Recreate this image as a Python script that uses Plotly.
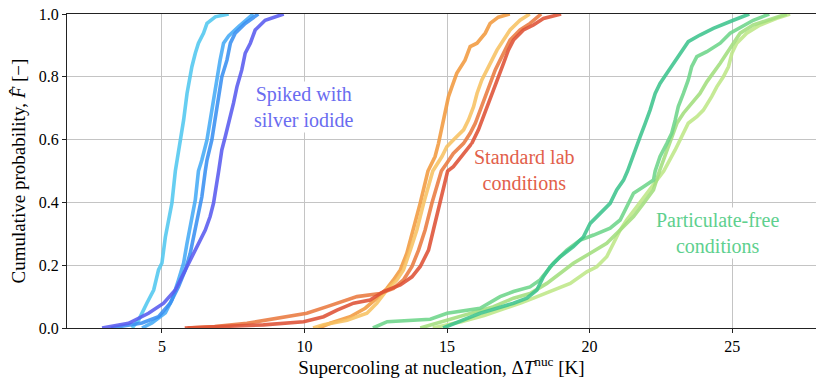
import plotly.graph_objects as go

# ---------------- data ----------------
# Spiked with silver iodide
agi_cyan_x = [3.95, 4.18, 4.47, 4.71, 4.88, 5.0, 5.12, 5.23, 5.35, 5.47, 5.64, 5.76, 5.88, 6.05, 6.17, 6.28, 6.46, 6.58, 6.87, 7.34]
agi_cyan_F = [0.0, 0.025, 0.079, 0.121, 0.185, 0.207, 0.29, 0.344, 0.398, 0.50, 0.589, 0.662, 0.747, 0.832, 0.875, 0.907, 0.939, 0.97, 0.991, 1.0]
agi_light_x = [4.3, 4.65, 5.12, 5.35, 5.58, 5.76, 5.88, 6.05, 6.17, 6.28, 6.40, 6.58, 6.69, 6.81, 6.93, 7.04, 7.16, 7.34, 7.69, 8.2]
agi_light_F = [0.0, 0.016, 0.048, 0.089, 0.153, 0.207, 0.27, 0.344, 0.408, 0.50, 0.535, 0.599, 0.662, 0.726, 0.80, 0.853, 0.907, 0.93, 0.96, 1.0]
agi_blue_x = [3.2, 4.30, 4.88, 5.29, 5.58, 5.82, 5.99, 6.11, 6.28, 6.40, 6.52, 6.58, 6.75, 6.87, 6.99, 7.10, 7.28, 7.40, 7.57, 7.92, 8.38]
agi_blue_F = [0.0, 0.016, 0.036, 0.079, 0.131, 0.185, 0.237, 0.29, 0.365, 0.418, 0.50, 0.535, 0.599, 0.662, 0.737, 0.80, 0.853, 0.907, 0.939, 0.97, 1.0]
agi_purple_x = [2.9, 3.83, 4.53, 5.06, 5.47, 5.82, 6.11, 6.34, 6.52, 6.69, 6.81, 6.99, 7.10, 7.22, 7.34, 7.51, 7.63, 7.80, 7.92, 8.10, 8.27, 8.62, 9.27]
agi_purple_F = [0.0, 0.015, 0.047, 0.079, 0.121, 0.185, 0.238, 0.28, 0.312, 0.355, 0.398, 0.50, 0.567, 0.609, 0.652, 0.716, 0.768, 0.822, 0.875, 0.907, 0.949, 0.98, 1.0]

# Standard lab conditions
lab_orange_x = [10.5, 10.9, 11.6, 12.13, 12.54, 12.89, 13.12, 13.36, 13.59, 13.82, 14.06, 14.33, 14.58, 14.70, 14.82, 14.93, 15.05, 15.17, 15.34, 15.63, 15.81, 16.05, 16.34, 16.51, 16.8, 17.2]
lab_orange_F = [0.0, 0.015, 0.036, 0.063, 0.095, 0.126, 0.153, 0.185, 0.238, 0.312, 0.398, 0.50, 0.546, 0.588, 0.641, 0.694, 0.737, 0.768, 0.811, 0.853, 0.896, 0.907, 0.939, 0.97, 0.99, 1.0]
lab_yellow_x = [10.3, 10.67, 11.49, 12.19, 12.54, 12.89, 13.24, 13.47, 13.71, 13.94, 14.18, 14.5, 14.82, 14.99, 15.22, 15.58, 15.75, 15.93, 16.05, 16.22, 16.40, 16.57, 16.75, 16.98, 17.21, 17.56, 17.9]
lab_yellow_F = [0.0, 0.01, 0.025, 0.047, 0.079, 0.121, 0.153, 0.185, 0.248, 0.312, 0.398, 0.50, 0.546, 0.577, 0.599, 0.631, 0.662, 0.705, 0.747, 0.79, 0.822, 0.853, 0.885, 0.917, 0.949, 0.98, 1.0]
lab_orred_x = [5.9, 6.85, 7.98, 9.03, 10.08, 10.79, 11.84, 12.65, 13.12, 13.47, 13.77, 14.0, 14.23, 14.47, 14.8, 14.99, 15.22, 15.58, 15.81, 15.99, 16.16, 16.34, 16.51, 16.69, 16.86, 17.04, 17.21, 17.56, 17.91, 18.3]
lab_orred_F = [0.0, 0.005, 0.015, 0.031, 0.047, 0.068, 0.10, 0.11, 0.126, 0.153, 0.196, 0.248, 0.312, 0.398, 0.50, 0.525, 0.556, 0.588, 0.62, 0.652, 0.694, 0.737, 0.78, 0.822, 0.853, 0.885, 0.917, 0.949, 0.97, 1.0]
lab_red_x = [5.8, 6.85, 8.56, 9.97, 10.67, 11.14, 11.72, 12.30, 12.77, 13.36, 13.77, 14.06, 14.35, 14.52, 14.76, 15.02, 15.22, 15.58, 15.87, 16.10, 16.28, 16.45, 16.63, 16.80, 16.98, 17.15, 17.33, 17.68, 18.03, 18.38, 19.0]
lab_red_F = [0.0, 0.003, 0.01, 0.02, 0.036, 0.057, 0.079, 0.089, 0.116, 0.137, 0.163, 0.196, 0.248, 0.312, 0.398, 0.50, 0.514, 0.556, 0.588, 0.631, 0.673, 0.716, 0.758, 0.80, 0.843, 0.885, 0.917, 0.949, 0.965, 0.986, 1.0]

# Particulate-free conditions
pf_teal_x = [14.86, 15.58, 16.16, 16.75, 17.33, 17.80, 18.15, 18.38, 18.62, 18.97, 19.43, 19.78, 20.02, 20.37, 20.72, 20.95, 21.19, 21.33, 21.54, 21.77, 21.95, 22.12, 22.30, 22.47, 22.71, 22.94, 23.17, 23.46, 23.87, 24.34, 25.04, 25.6]
pf_teal_F = [0.0, 0.025, 0.047, 0.063, 0.079, 0.095, 0.121, 0.163, 0.195, 0.227, 0.259, 0.29, 0.333, 0.365, 0.397, 0.44, 0.471, 0.50, 0.556, 0.609, 0.652, 0.694, 0.747, 0.779, 0.811, 0.843, 0.875, 0.912, 0.933, 0.954, 0.98, 1.0]
pf_mid_x = [12.4, 12.9, 14.41, 15.0, 16.16, 16.86, 17.33, 17.91, 18.26, 18.73, 19.2, 19.67, 20.14, 20.72, 21.07, 21.30, 21.54, 21.89, 22.24, 22.30, 22.47, 22.71, 22.88, 23.0, 23.11, 23.29, 23.46, 23.58, 23.76, 24.11, 24.58, 24.93, 25.34, 25.74, 26.3]
pf_mid_F = [0.0, 0.02, 0.028, 0.047, 0.063, 0.10, 0.116, 0.131, 0.153, 0.206, 0.248, 0.28, 0.296, 0.318, 0.344, 0.386, 0.429, 0.45, 0.471, 0.50, 0.546, 0.588, 0.62, 0.662, 0.705, 0.747, 0.79, 0.832, 0.864, 0.88, 0.907, 0.939, 0.96, 0.98, 1.0]
pf_light_x = [14.06, 15.0, 15.93, 16.63, 17.33, 17.91, 18.50, 18.97, 19.43, 20.02, 20.6, 21.07, 21.54, 21.89, 22.24, 22.45, 22.82, 23.06, 23.29, 23.58, 23.87, 24.11, 24.34, 24.58, 24.81, 25.04, 25.28, 25.74, 26.45, 26.91]
pf_light_F = [0.0, 0.025, 0.047, 0.068, 0.095, 0.11, 0.142, 0.174, 0.206, 0.238, 0.27, 0.312, 0.355, 0.397, 0.44, 0.50, 0.588, 0.652, 0.684, 0.716, 0.747, 0.784, 0.811, 0.843, 0.875, 0.907, 0.939, 0.965, 0.986, 1.0]
pf_yg_x = [14.5, 15.5, 16.3, 17.0, 17.6, 18.03, 18.73, 19.32, 19.90, 20.25, 20.6, 20.84, 21.07, 21.3, 21.65, 22.0, 22.24, 22.6, 23.0, 23.23, 23.46, 23.76, 23.99, 24.28, 24.46, 24.69, 24.87, 24.99, 25.16, 25.51, 25.98, 26.56, 27.03]
pf_yg_F = [0.0, 0.02, 0.04, 0.06, 0.08, 0.095, 0.121, 0.142, 0.179, 0.195, 0.227, 0.27, 0.312, 0.344, 0.386, 0.429, 0.46, 0.50, 0.567, 0.609, 0.652, 0.673, 0.694, 0.737, 0.768, 0.80, 0.832, 0.875, 0.907, 0.939, 0.965, 0.986, 1.0]

x_tick_vals = [5, 10, 15, 20, 25]
y_tick_vals = [0.0, 0.2, 0.4, 0.6, 0.8, 1.0]
y_tick_text = ["0.0", "0.2", "0.4", "0.6", "0.8", "1.0"]

group_labels = ["Spiked with<br>silver iodide", "Standard lab<br>conditions", "Particulate-free<br>conditions"]
group_label_x = [9.99, 17.70, 24.5]
group_label_y = [0.704, 0.503, 0.303]
group_label_colors = ["#6a6cf0", "#e2604a", "#5ed08e"]

curves = [
    (lab_orange_x, lab_orange_F, "#f29a3f"),
    (lab_yellow_x, lab_yellow_F, "#f8c262"),
    (lab_orred_x, lab_orred_F, "#ea7a40"),
    (lab_red_x, lab_red_F, "#df5236"),
    (pf_yg_x, pf_yg_F, "#bfe888"),
    (pf_light_x, pf_light_F, "#a2df7e"),
    (pf_mid_x, pf_mid_F, "#6ed68a"),
    (pf_teal_x, pf_teal_F, "#3ec48e"),
    (agi_cyan_x, agi_cyan_F, "#52c8f0"),
    (agi_light_x, agi_light_F, "#46abf6"),
    (agi_blue_x, agi_blue_F, "#3a90f2"),
    (agi_purple_x, agi_purple_F, "#5a5cf0"),
]

SERIF = "Liberation Serif"

fig = go.Figure()
for xs, fs, col in curves:
    fig.add_trace(go.Scatter(x=xs, y=fs, mode="lines",
                             line=dict(color=col, width=3.6),
                             opacity=0.88, showlegend=False, hoverinfo="skip"))

for txt, ax_, ay_, col in zip(group_labels, group_label_x, group_label_y, group_label_colors):
    fig.add_annotation(x=ax_, y=ay_, text=txt, showarrow=False, xref="x", yref="y",
                       font=dict(family=SERIF, size=20, color=col),
                       bgcolor="white", borderpad=1, align="center")

fig.update_layout(
    width=816, height=378,
    margin=dict(l=67, r=0, t=14, b=50),
    paper_bgcolor="white", plot_bgcolor="white",
    font=dict(family=SERIF, size=16, color="black"),
)
fig.update_xaxes(
    range=[1.67, 27.94], tickvals=x_tick_vals, ticks="outside", ticklen=4,
    tickcolor="#222", showline=True, linecolor="#222", linewidth=1, mirror=True,
    showgrid=True, gridcolor="#c4c4c4", gridwidth=1, zeroline=False,
    tickfont=dict(family=SERIF, size=16),
    title=dict(text="Supercooling at nucleation, Δ<i>T</i><sup>nuc</sup> [K]",
               font=dict(family=SERIF, size=19), standoff=5),
)
fig.update_yaxes(
    range=[0, 1.0], tickvals=y_tick_vals, ticktext=y_tick_text, ticks="outside", ticklen=4,
    tickcolor="#222", showline=True, linecolor="#222", linewidth=1, mirror=False,
    showgrid=True, gridcolor="#c4c4c4", gridwidth=1, zeroline=False,
    tickfont=dict(family=SERIF, size=16),
    title=dict(text="Cumulative probability, <i>F̂</i> [−]",
               font=dict(family=SERIF, size=19), standoff=8),
)

fig.write_html("out.html")
